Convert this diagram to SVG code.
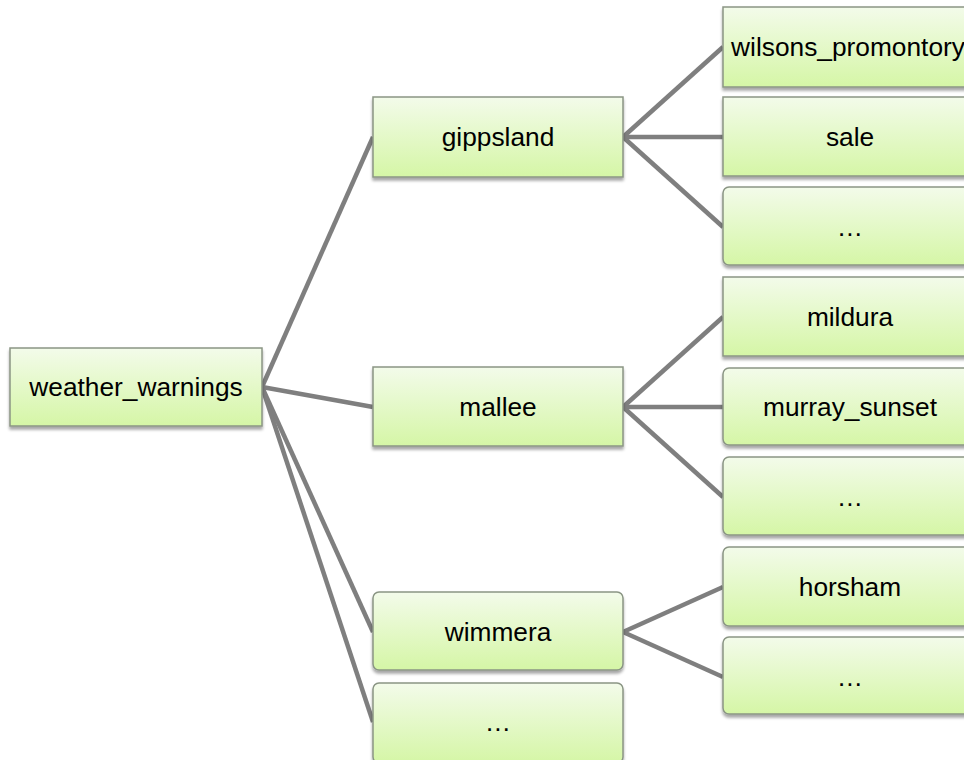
<svg xmlns="http://www.w3.org/2000/svg" width="964" height="760" viewBox="0 0 964 760">
<defs>
<linearGradient id="g" x1="0" y1="0" x2="0" y2="1">
<stop offset="0" stop-color="#f3fbea"/>
<stop offset="1" stop-color="#d5f6a6"/>
</linearGradient>
<filter id="sh" x="-5%" y="-5%" width="115%" height="125%">
<feGaussianBlur in="SourceAlpha" stdDeviation="1.5"/>
<feOffset dx="0" dy="2.5" result="b"/>
<feComponentTransfer><feFuncA type="linear" slope="0.35"/></feComponentTransfer>
<feMerge><feMergeNode/><feMergeNode in="SourceGraphic"/></feMerge>
</filter>
</defs>
<style>
.box{fill:url(#g);stroke:#8a9584;stroke-width:1.5;filter:url(#sh)}
.t{font-family:"Liberation Sans",Arial,sans-serif;font-size:26.3px;fill:#000;text-anchor:middle}
.e{stroke:#7f7f7f;stroke-width:4.5;fill:none;stroke-linecap:butt}
</style>
<g id="connectors">
<line class="e" x1="262" y1="387" x2="373" y2="137"/>
<line class="e" x1="262" y1="387" x2="373" y2="407"/>
<line class="e" x1="262" y1="387" x2="373" y2="632"/>
<line class="e" x1="262" y1="387" x2="373" y2="722"/>
<line class="e" x1="623" y1="137" x2="723" y2="47"/>
<line class="e" x1="623" y1="137" x2="723" y2="137"/>
<line class="e" x1="623" y1="137" x2="723" y2="227"/>
<line class="e" x1="623" y1="407" x2="723" y2="317"/>
<line class="e" x1="623" y1="407" x2="723" y2="407"/>
<line class="e" x1="623" y1="407" x2="723" y2="497"/>
<line class="e" x1="623" y1="632" x2="723" y2="587"/>
<line class="e" x1="623" y1="632" x2="723" y2="677"/>
</g>
<g id="n-weather_warnings"><rect class="box" x="10" y="348" width="252" height="78"/><text class="t" x="136" y="396">weather_warnings</text></g>
<g id="n-gippsland"><rect class="box" x="373" y="97" width="250" height="80"/><text class="t" x="498" y="146">gippsland</text></g>
<g id="n-mallee"><rect class="box" x="373" y="367" width="250" height="79"/><text class="t" x="498" y="416">mallee</text></g>
<g id="n-wimmera"><rect class="box" x="373" y="592" width="250" height="78" rx="6"/><text class="t" x="498" y="641">wimmera</text></g>
<g id="n-l1-more"><rect class="box" x="373" y="683" width="250" height="80" rx="6"/><text class="t" x="498" y="731">…</text></g>
<g id="n-wilsons_promontory"><rect class="box" x="723" y="7" width="256" height="80"/><text class="t" x="848" y="56">wilsons_promontory</text></g>
<g id="n-sale"><rect class="box" x="723" y="97" width="256" height="79"/><text class="t" x="850" y="146">sale</text></g>
<g id="n-g-more"><rect class="box" x="723" y="187" width="256" height="78" rx="6"/><text class="t" x="850" y="236">…</text></g>
<g id="n-mildura"><rect class="box" x="723" y="277" width="256" height="79"/><text class="t" x="850" y="326">mildura</text></g>
<g id="n-murray_sunset"><rect class="box" x="723" y="368" width="256" height="77" rx="6"/><text class="t" x="850" y="416">murray_sunset</text></g>
<g id="n-m-more"><rect class="box" x="723" y="457" width="256" height="78" rx="6"/><text class="t" x="850" y="506">…</text></g>
<g id="n-horsham"><rect class="box" x="723" y="547" width="256" height="79" rx="6"/><text class="t" x="850" y="596">horsham</text></g>
<g id="n-w-more"><rect class="box" x="723" y="637" width="256" height="77" rx="6"/><text class="t" x="850" y="686">…</text></g>
</svg>
